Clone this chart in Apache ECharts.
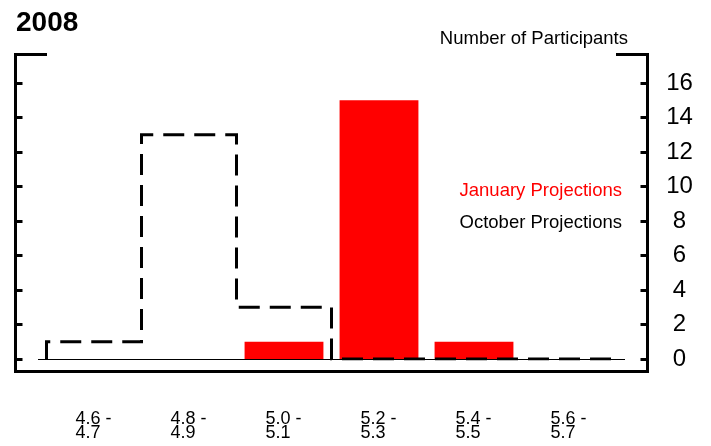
<!DOCTYPE html>
<html>
<head>
<meta charset="utf-8">
<script src="https://cdn.jsdelivr.net/npm/echarts@6/dist/echarts.min.js"></script>
<style>
html,body{margin:0;padding:0;background:#fff;}
#chart{width:711px;height:446px;}
</style>
</head>
<body>
<div id="chart"></div>
<script>
// ---- data ----
const binLabels = ['4.6 - 4.7', '4.8 - 4.9', '5.0 - 5.1', '5.2 - 5.3', '5.4 - 5.5', '5.6 - 5.7'];
const januaryValues = [0, 0, 1, 15, 1, 0];
const octoberValues = [1, 13, 3, 0, 0, 0];
const yTicks = [0, 2, 4, 6, 8, 10, 12, 14, 16];
const titleText = '2008';
const yAxisTitle = 'Number of Participants';
const seriesNames = ['January Projections', 'October Projections'];

// histogram outline points for the October step line (bin edges)
const octoberOutline = [[0, 0]];
octoberValues.forEach((v, i) => { octoberOutline.push([i, v]); octoberOutline.push([i + 1, v]); });
octoberOutline.push([octoberValues.length, 0]);

const FONT = '"Liberation Sans", Arial, sans-serif';
const chart = echarts.init(document.getElementById('chart'), null, {renderer: 'canvas'});

const yAxisCommon = {
  type: 'value', min: yTicks[0], max: yTicks[yTicks.length - 1], interval: 2,
  offset: 31,
  axisLine: {show: false, onZero: false},
  axisTick: {show: true, inside: true, length: 7, lineStyle: {color: '#000', width: 3}},
  splitLine: {show: false}
};

chart.setOption({
  animation: false,
  backgroundColor: '#fff',
  textStyle: {fontFamily: FONT},
  title: [
    {text: titleText, left: 16, top: 9, padding: 0, textStyle: {fontFamily: FONT, fontSize: 28, fontWeight: 'bold', color: '#000'}},
    {text: yAxisTitle, right: 83, top: 29, padding: 0, textStyle: {fontFamily: FONT, fontSize: 18.5, fontWeight: 'normal', color: '#000'}}
  ],
  legend: {
    orient: 'vertical', right: 79, top: 176, align: 'right',
    icon: 'none', itemWidth: 0, itemHeight: 0, itemGap: 13.5,
    selectedMode: false,
    textStyle: {fontFamily: FONT, fontSize: 18.5, lineHeight: 18, padding: 0},
    data: [
      {name: seriesNames[0], textStyle: {color: '#ff0000'}},
      {name: seriesNames[1], textStyle: {color: '#000'}}
    ]
  },
  grid: {left: 46.5, right: 94.5, top: 83, bottom: 87, containLabel: false},
  xAxis: [
    {
      type: 'category', data: binLabels, position: 'bottom',
      axisLine: {show: false}, axisTick: {show: false}, splitLine: {show: false},
      axisLabel: {
        margin: 53, interval: 0,
        formatter: (v) => { const p = v.split(' - '); return '{a|' + p[0] + ' -}\n{a|' + p[1] + '}'; },
        rich: {a: {width: 37, align: 'left', fontSize: 18, lineHeight: 14, color: '#000', fontFamily: FONT}}
      }
    },
    {type: 'value', min: 0, max: binLabels.length, show: false, axisLine: {onZero: false}}
  ],
  yAxis: [
    Object.assign({}, yAxisCommon, {position: 'left', axisLabel: {show: false}}),
    Object.assign({}, yAxisCommon, {position: 'right',
      axisLabel: {show: true, margin: 32, align: 'center', fontSize: 24, padding: [4, 0, 0, 0], color: '#000', fontFamily: FONT}})
  ],
  graphic: [
    {type: 'line', shape: {x1: 38, y1: 359.5, x2: 625, y2: 359.5}, style: {stroke: '#000', lineWidth: 1}, z: 1},
    {type: 'line', shape: {x1: 15.5, y1: 53, x2: 15.5, y2: 373}, style: {stroke: '#000', lineWidth: 3}},
    {type: 'line', shape: {x1: 14, y1: 54.5, x2: 47, y2: 54.5}, style: {stroke: '#000', lineWidth: 3}},
    {type: 'line', shape: {x1: 647.5, y1: 53, x2: 647.5, y2: 373}, style: {stroke: '#000', lineWidth: 3}},
    {type: 'line', shape: {x1: 616, y1: 54.5, x2: 649, y2: 54.5}, style: {stroke: '#000', lineWidth: 3}},
    {type: 'line', shape: {x1: 14, y1: 371.5, x2: 649, y2: 371.5}, style: {stroke: '#000', lineWidth: 3}}
  ],
  series: [
    {
      name: seriesNames[0], type: 'bar', xAxisIndex: 0, yAxisIndex: 0,
      data: januaryValues, barCategoryGap: '17%',
      itemStyle: {color: '#ff0000'}, z: 2
    },
    {
      name: seriesNames[1], type: 'line', xAxisIndex: 1, yAxisIndex: 0,
      data: octoberOutline, symbol: 'none', silent: true,
      lineStyle: {color: '#000', width: 3, type: [21, 10], cap: 'butt', join: 'miter'},
      itemStyle: {color: '#000'}, z: 3
    }
  ]
});
</script>
</body>
</html>
